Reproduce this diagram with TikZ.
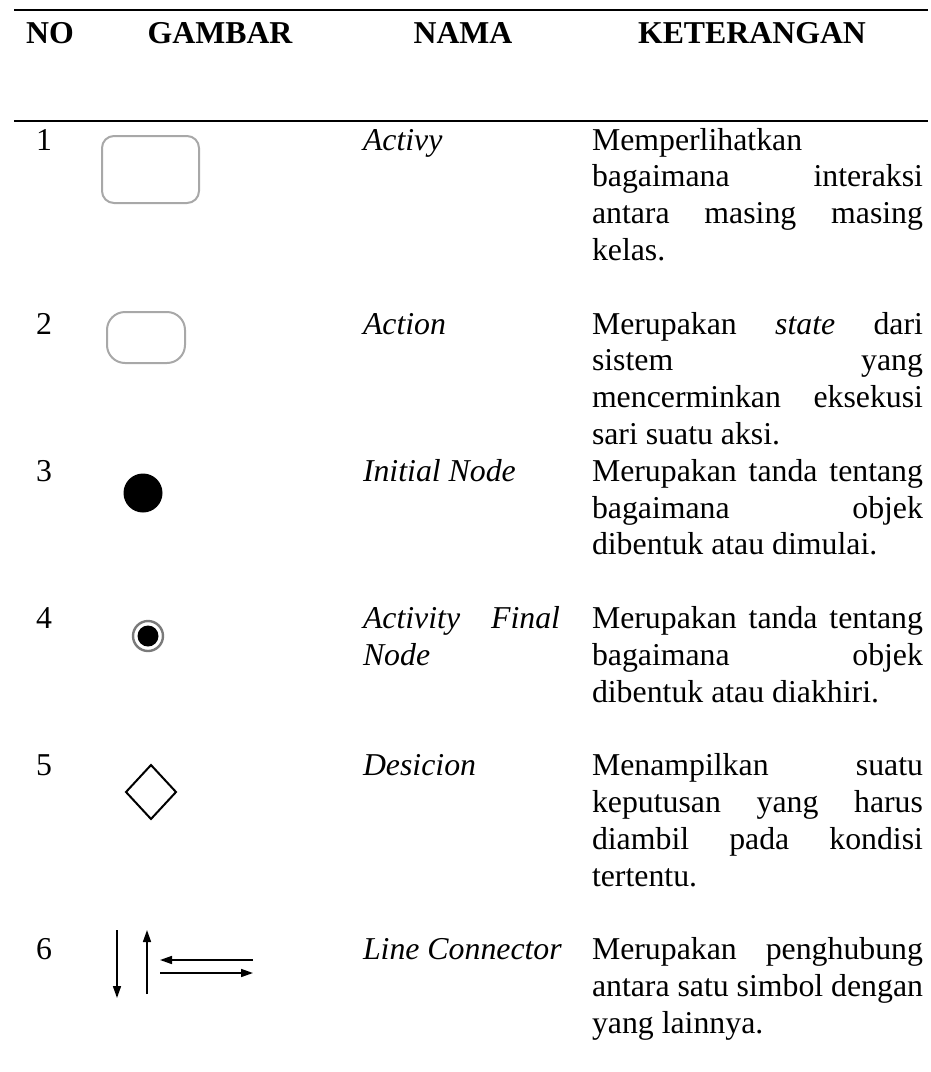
\documentclass[tikz,border=0pt]{standalone}
\usepackage{fontspec}
\setmainfont{Liberation Serif}
\usetikzlibrary{arrows.meta, shapes.geometric}
\definecolor{Sym_Gray}{HTML}{A8A8A8}
\definecolor{Ring_Gray}{HTML}{7A7A7A}
\hyphenpenalty=10000
\tolerance=10000

\begin{document}
\begin{tikzpicture}[x=1pt, y=-1pt,
  every node/.style={font=\fontsize{31.8}{36.8}\selectfont, inner sep=0pt, outer sep=0pt},
  head/.style={anchor=base, font=\fontsize{31.8}{36.8}\selectfont\bfseries},
  num/.style={anchor=base},
  nama/.style={anchor=base west, font=\fontsize{31.8}{36.8}\selectfont\itshape},
  ket/.style={anchor=base west, text width=331pt, align=justify},
  rule/.style={line width=2pt},
  gbox/.style={draw=Sym_Gray, line width=2pt, rectangle, minimum width=#1},
  arr/.style={-{Triangle[length=12pt, width=8pt]}, line width=1.6pt}
]
  \useasboundingbox (0,0) rectangle (930,1072);

  % Header
  \draw[rule] (14,10) -- (928,10);
  \node[head] (hno) at (50,43) {NO};
  \node[head] (hgambar) at (220,43) {GAMBAR};
  \node[head] (hnama) at (463,43) {NAMA};
  \node[head] (hket) at (752,43) {KETERANGAN};
  \draw[rule] (14,121) -- (928,121);

  % Row 1
  \node[num] (n1) at (44,150) {1};
  \node[gbox=97pt, minimum height=67pt, rounded corners=12pt] (activity) at (150.5,169.5) {};
  \node[nama] (nm1) at (363,150) {Activy};
  \node[ket] (k1) at (592,150) {Memperlihatkan\linebreak bagaimana interaksi\linebreak antara masing masing\linebreak kelas.};

  % Row 2
  \node[num] (n2) at (44,334) {2};
  \node[gbox=78pt, minimum height=51pt, rounded corners=18pt] (action) at (146,337.5) {};
  \node[nama] (nm2) at (363,334) {Action};
  \node[ket] (k2) at (592,334) {Merupakan \textit{state} dari\linebreak sistem yang\linebreak mencerminkan eksekusi\linebreak sari suatu aksi.};

  % Row 3
  \node[num] (n3) at (44,481.2) {3};
  \node[circle, fill=black, minimum size=39pt] (initial) at (143,493) {};
  \node[nama] (nm3) at (363,481.2) {Initial Node};
  \node[ket] (k3) at (592,481.2) {Merupakan tanda tentang\linebreak bagaimana objek\linebreak dibentuk atau dimulai.};

  % Row 4
  \node[num] (n4) at (44,628.4) {4};
  \node[circle, draw=Ring_Gray, line width=2.4pt, minimum size=30pt] (final) at (148,636) {};
  \node[circle, fill=black, minimum size=21pt] (finaldot) at (final.center) {};
  \node[nama, text width=197pt, align=justify] (nm4) at (363,628.4) {Activity Final\linebreak Node};
  \node[ket] (k4) at (592,628.4) {Merupakan tanda tentang\linebreak bagaimana objek\linebreak dibentuk atau diakhiri.};

  % Row 5
  \node[num] (n5) at (44,775.6) {5};
  \node[diamond, draw, line width=2pt, minimum width=50pt, minimum height=54pt] (decision) at (151,792) {};
  \node[nama] (nm5) at (363,775.6) {Desicion};
  \node[ket] (k5) at (592,775.6) {Menampilkan suatu\linebreak keputusan yang harus\linebreak diambil pada kondisi\linebreak tertentu.};

  % Row 6
  \node[num] (n6) at (44,959.6) {6};
  \coordinate (downA) at (117,930);
  \coordinate (downB) at (117,998);
  \coordinate (upA) at (147,994);
  \coordinate (upB) at (147,930);
  \coordinate (leftA) at (253,960);
  \coordinate (leftB) at (160,960);
  \coordinate (rightA) at (160,973);
  \coordinate (rightB) at (253,973);
  \draw[arr] (downA) -- (downB);
  \draw[arr] (upA) -- (upB);
  \draw[arr] (leftA) -- (leftB);
  \draw[arr] (rightA) -- (rightB);
  \node[nama] (nm6) at (363,959.6) {Line Connector};
  \node[ket] (k6) at (592,959.6) {Merupakan penghubung\linebreak antara satu simbol dengan\linebreak yang lainnya.};
\end{tikzpicture}
\end{document}
